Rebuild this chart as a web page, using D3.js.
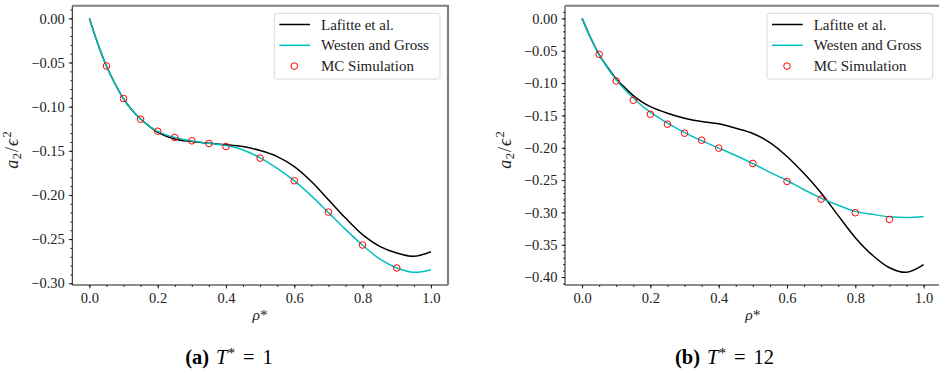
<!DOCTYPE html>
<html>
<head>
<meta charset="utf-8">
<script src="https://cdn.jsdelivr.net/npm/d3@7"></script>
<style>
	body { margin: 0; background: #fff; }
	svg { display: block; }
</style>
</head>
<body>
<svg id="chart" width="939" height="371" font-family="Liberation Serif"></svg>
<script>
// density grid for the two model curves
const rhoCurve = [0, 0.025, 0.05, 0.075, 0.1, 0.125, 0.15, 0.175, 0.2, 0.25, 0.3, 0.35, 0.4,
	0.45, 0.5, 0.55, 0.6, 0.65, 0.7, 0.75, 0.8, 0.85, 0.9, 0.95, 1.0];

// T* = 1
const lafitteT1 = [0, -0.029, -0.054, -0.074, -0.091, -0.104, -0.114, -0.122, -0.129, -0.1365,
	-0.1395, -0.1415, -0.1430, -0.1452, -0.1497, -0.1565, -0.1678, -0.1847, -0.2054, -0.2262,
	-0.245, -0.2582, -0.2657, -0.2695, -0.2643];
const westenT1 = [0, -0.029, -0.054, -0.074, -0.091, -0.104, -0.114, -0.122, -0.128, -0.135,
	-0.139, -0.1415, -0.144, -0.149, -0.158, -0.170, -0.184, -0.201, -0.220, -0.239,
	-0.257, -0.2725, -0.2827, -0.2876, -0.2846];

// T* = 12
const lafitteT12 = [0, -0.030, -0.056, -0.076, -0.0935, -0.107, -0.1194, -0.129, -0.1364, -0.1466,
	-0.1543, -0.1595, -0.1630, -0.170, -0.178, -0.192, -0.2135, -0.240, -0.270, -0.305,
	-0.339, -0.366, -0.3855, -0.3926, -0.3808];
const westenT12 = [0, -0.030, -0.056, -0.077, -0.095, -0.110, -0.123, -0.135, -0.145, -0.162,
	-0.1765, -0.189, -0.2005, -0.212, -0.2245, -0.238, -0.2506, -0.265, -0.2778, -0.289,
	-0.2984, -0.303, -0.3068, -0.3080, -0.3062];

// Monte Carlo points
const rhoMC = [0.05, 0.1, 0.15, 0.2, 0.25, 0.3, 0.35, 0.4, 0.5, 0.6, 0.7, 0.8, 0.9];
const mcT1 = [-0.0539, -0.0908, -0.1142, -0.1278, -0.1349, -0.1387, -0.1417, -0.1451,
	-0.1583, -0.1839, -0.2194, -0.2567, -0.2827];
const mcT12 = [-0.0556, -0.0968, -0.1266, -0.1482, -0.1636, -0.1775, -0.1883, -0.2006,
	-0.2243, -0.2521, -0.2794, -0.3005, -0.3108];

const xTicks = [0, 0.2, 0.4, 0.6, 0.8, 1.0];
const yTicksT1 = [0, -0.05, -0.10, -0.15, -0.20, -0.25, -0.30];
const yTicksT12 = [0, -0.05, -0.10, -0.15, -0.20, -0.25, -0.30, -0.35, -0.40];
const legendLabels = ['Lafitte et al.', 'Westen and Gross', 'MC Simulation'];

const FONT = 'Liberation Serif';
const svg = d3.select('#chart');
const axTop = 5.7, axBottom = 285, axW = 375.7;

function drawPanel(opts) {
	const g = svg.append('g');
	const left = opts.left, right = left + axW;

	const x = d3.scaleLinear().domain([-0.05, 1.05]).range([left, right]);
	const all = opts.black.concat(opts.cyan, opts.mc);
	const lo = d3.min(all), hi = d3.max(all), pad = (hi - lo) * 0.05;
	const y = d3.scaleLinear().domain([lo - pad, hi + pad]).range([axBottom, axTop]);

	// minor ticks
	const xMinor = d3.range(0, 1.0001, 0.05);
	const yMinor = d3.range(Math.ceil((lo - pad) * 100), Math.floor((hi + pad) * 100) + 1).map(v => v / 100);

	g.append('g')
		.attr('transform', 'translate(0,' + axBottom + ')')
		.call(d3.axisBottom(x).tickValues(xMinor).tickSize(2).tickFormat(''))
		.call(a => a.select('.domain').remove());
	g.append('g')
		.attr('transform', 'translate(' + left + ',0)')
		.call(d3.axisLeft(y).tickValues(yMinor).tickSize(2).tickFormat(''))
		.call(a => a.select('.domain').remove());

	const xAxis = g.append('g')
		.attr('transform', 'translate(0,' + axBottom + ')')
		.call(d3.axisBottom(x).tickValues(xTicks).tickSize(3.5).tickPadding(4).tickFormat(d3.format('.1f')));
	const yAxis = g.append('g')
		.attr('transform', 'translate(' + left + ',0)')
		.call(d3.axisLeft(y).tickValues(opts.yTicks).tickSize(3.5).tickPadding(4).tickFormat(d3.format('.2f')));

	[xAxis, yAxis].forEach(a => {
		a.select('.domain').remove();
		a.attr('font-family', FONT).attr('font-size', 14.5);
		a.selectAll('text').attr('fill', '#222');
	});
	g.selectAll('.tick line').attr('stroke', '#000').attr('stroke-width', 0.8);

	// curves
	const line = (vals) => d3.line()
		.x((d, i) => x(rhoCurve[i]))
		.y(d => y(d))
		.curve(d3.curveCatmullRom)(vals);

	g.append('path').attr('d', line(opts.black))
		.attr('fill', 'none').attr('stroke', '#000').attr('stroke-width', 1.5);
	g.append('path').attr('d', line(opts.cyan))
		.attr('fill', 'none').attr('stroke', '#00bfbf').attr('stroke-width', 1.5);

	g.selectAll('.mc')
		.data(opts.mc)
		.enter().append('circle')
		.attr('class', 'mc')
		.attr('cx', (d, i) => x(rhoMC[i]))
		.attr('cy', d => y(d))
		.attr('r', 3.3)
		.attr('fill', 'none')
		.attr('stroke', '#ff0000')
		.attr('stroke-width', 1);

	// spines
	g.append('line').attr('x1', left).attr('x2', left).attr('y1', axTop).attr('y2', axBottom)
		.attr('stroke', '#000').attr('stroke-width', 0.9);
	g.append('line').attr('x1', left).attr('x2', right).attr('y1', axBottom).attr('y2', axBottom)
		.attr('stroke', '#000').attr('stroke-width', 0.9);
	g.append('line').attr('x1', left).attr('x2', right + 1).attr('y1', axTop).attr('y2', axTop)
		.attr('stroke', '#808080').attr('stroke-width', 2);
	g.append('line').attr('x1', right).attr('x2', right).attr('y1', axTop).attr('y2', axBottom)
		.attr('stroke', '#808080').attr('stroke-width', 2.2);

	// legend
	const lg = g.append('g').attr('transform', 'translate(' + (right - 8 - 165.7) + ',' + (axTop + 7.6) + ')');
	lg.append('rect')
		.attr('width', 165.7).attr('height', 65.7)
		.attr('rx', 2)
		.attr('fill', '#fff').attr('fill-opacity', 0.8)
		.attr('stroke', '#d6d6d6').attr('stroke-width', 0.9);
	const rows = lg.selectAll('.row')
		.data(legendLabels)
		.enter().append('g')
		.attr('class', 'row')
		.attr('transform', (d, i) => 'translate(0,' + (11.2 + i * 20.8) + ')');
	rows.filter((d, i) => i < 2).append('line')
		.attr('x1', 5).attr('x2', 35.7)
		.attr('stroke', (d, i) => i === 0 ? '#000' : '#00bfbf')
		.attr('stroke-width', 1.5);
	rows.filter((d, i) => i === 2).append('circle')
		.attr('cx', 20).attr('r', 3.3)
		.attr('fill', 'none').attr('stroke', '#ff0000').attr('stroke-width', 1);
	rows.append('text')
		.attr('x', 46.7).attr('y', 5)
		.attr('font-family', FONT).attr('font-size', 15)
		.attr('fill', '#222')
		.text(d => d);

	// axis labels
	const yl = g.append('text')
		.attr('transform', 'translate(' + (left - 54.5) + ',150) rotate(-90)')
		.attr('text-anchor', 'middle')
		.attr('font-family', FONT).attr('font-size', 18)
		.attr('fill', '#222');
	yl.append('tspan').attr('font-style', 'italic').text('a');
	yl.append('tspan').attr('dy', 3.5).attr('dx', 0.5).attr('font-size', 12.5).text('2');
	yl.append('tspan').attr('dy', -3.5).attr('dx', 1).text('/');
	yl.append('tspan').attr('dx', 1).attr('font-style', 'italic').text('ϵ');
	yl.append('tspan').attr('dy', -7).attr('dx', 1).attr('font-size', 12.5).text('2');

	const xl = g.append('text')
		.attr('x', (left + right) / 2).attr('y', 320)
		.attr('text-anchor', 'middle')
		.attr('font-family', FONT).attr('font-size', 15.5)
		.attr('fill', '#222');
	xl.append('tspan').attr('font-style', 'italic').text('ρ');
	xl.append('tspan').text('*');

	// caption
	const cap = svg.append('text')
		.attr('x', opts.capX).attr('y', 363.5)
		.attr('text-anchor', 'middle')
		.attr('font-family', FONT).attr('font-size', 20.5)
		.attr('fill', '#000');
	cap.append('tspan').attr('font-weight', 'bold').text(opts.tag);
	cap.append('tspan').attr('dx', 7).attr('font-style', 'italic').text('T');
	cap.append('tspan').attr('dx', 0.5).attr('dy', -6).attr('font-size', 14).text('*');
	cap.append('tspan').attr('dx', 8).attr('dy', 6).text('=');
	cap.append('tspan').attr('dx', 8).text(opts.temp);
}

drawPanel({ left: 72.3, black: lafitteT1, cyan: westenT1, mc: mcT1, yTicks: yTicksT1, capX: 229, tag: '(a)', temp: '1' });
drawPanel({ left: 565, black: lafitteT12, cyan: westenT12, mc: mcT12, yTicks: yTicksT12, capX: 724.5, tag: '(b)', temp: '12' });
</script>
</body>
</html>
